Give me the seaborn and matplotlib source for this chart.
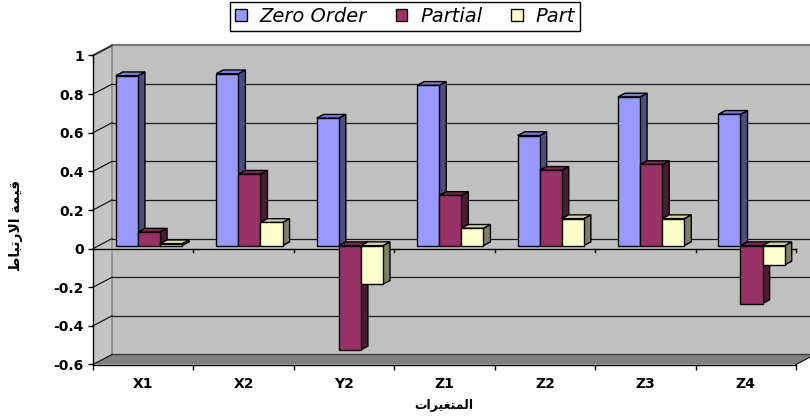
import numpy as np
import pandas as pd
import matplotlib
matplotlib.use("Agg")
import matplotlib.pyplot as plt
import seaborn as sns
from matplotlib.patches import Polygon, Patch
from matplotlib.colors import to_hex

# --- data -------------------------------------------------------------
variables = ["X1", "X2", "Y2", "Z1", "Z2", "Z3", "Z4"]
series = ["Zero Order", "Partial", "Part"]
zero_order = [0.88, 0.89, 0.66, 0.83, 0.57, 0.77, 0.68]
partial = [0.07, 0.37, -0.54, 0.26, 0.39, 0.42, -0.30]
part = [0.01, 0.12, -0.20, 0.09, 0.14, 0.14, -0.10]
yticks = [-0.6, -0.4, -0.2, 0, 0.2, 0.4, 0.6, 0.8, 1]
ytick_labels = ["-0.6", "-0.4", "-0.2", "0", "0.2", "0.4", "0.6", "0.8", "1"]

# Arabic titles, written in shaped (presentation) forms in display order
ylabel_text = "\uFEC1\uFE8E\uFE92\uFE97\uFEAD\uFEFB\uFE8D \uFE94\uFEE4\uFEF4\uFED7"   # قيمة الارتباط
xlabel_text = "\uFE95\uFE8D\uFEAE\uFEF4\uFED0\uFE98\uFEE4\uFEDF\uFE8D"              # المتغيرات

front_colors = ["#9999FF", "#993366", "#FFFFCC"]
top_colors = ["#7C7CD6", "#7A2952", "#D6D6AA"]
side_colors = ["#4D4D80", "#4D1A33", "#808066"]

df = pd.DataFrame({
    "variable": variables * 3,
    "series": np.repeat(series, len(variables)),
    "value": zero_order + partial + part,
})

plt.rcParams["font.family"] = ["DejaVu Sans"]

W, H = 810, 419
fig = plt.figure(figsize=(W / 100, H / 100), dpi=100)
fig.patch.set_facecolor("white")
ax = fig.add_axes([93 / W, (H - 364.5) / H, (796 - 93) / W, (364.5 - 55.5) / H])

sns.barplot(data=df, x="variable", y="value", hue="series", hue_order=series,
            palette=front_colors, saturation=1, width=0.66, errorbar=None,
            edgecolor="black", linewidth=1.0, legend=False, ax=ax)

ax.set_xlim(-0.5, 6.5)
ax.set_ylim(-0.6, 1.0)
ax.set_facecolor("none")

# depth of the box (data units) and of the columns
DX, DY = 0.19, 0.052
FX, FY = 0.3 * DX, 0.3 * DY          # column front face position inside the box
BX, BY = 0.37 * DX, 0.37 * DY        # column thickness

# --- walls and floor --------------------------------------------------
x0w, x1w, y0w, y1w = -0.5, 6.5, -0.6, 1.0
wall_kw = dict(clip_on=False, linewidth=0)
ax.add_patch(Polygon([(x0w + DX, y0w + DY), (x1w + DX, y0w + DY), (x1w + DX, y1w + DY),
                      (x0w + DX, y1w + DY)], facecolor="#C0C0C0", zorder=0, **wall_kw))
ax.add_patch(Polygon([(x0w, y0w), (x0w + DX, y0w + DY), (x0w + DX, y1w + DY), (x0w, y1w)],
                     facecolor="#C4C4C4", zorder=0, **wall_kw))
ax.add_patch(Polygon([(x0w, y0w), (x1w, y0w), (x1w + DX, y0w + DY), (x0w + DX, y0w + DY)],
                     facecolor="#808080", zorder=0.5, **wall_kw))

edge_kw = dict(color="#7A7A7A", linewidth=1.6, clip_on=False, zorder=0.6)
ax.plot([x0w + DX, x1w + DX], [y1w + DY, y1w + DY], **edge_kw)
ax.plot([x0w, x0w + DX], [y1w, y1w + DY], **edge_kw)
ax.plot([x0w + DX, x0w + DX], [y0w + DY, y1w + DY], color="#8C8C8C", linewidth=1.2,
        clip_on=False, zorder=0.6)
ax.plot([x0w + DX, x1w + DX], [y0w + DY, y0w + DY], color="#404040", linewidth=1.0,
        clip_on=False, zorder=0.6)
ax.plot([x1w, x1w + DX], [y0w, y0w + DY], color="#202020", linewidth=0.9,
        clip_on=False, zorder=0.6)

# gridlines on the back wall, with their diagonals across the side wall
for v in yticks[1:-1]:
    ax.plot([x0w + DX, x1w + DX], [v + DY, v + DY], color="#1A1A1A", linewidth=0.9,
            clip_on=False, zorder=0.7)
for v in yticks:
    ax.plot([x0w, x0w + DX], [v, v + DY], color="#1A1A1A", linewidth=0.9,
            clip_on=False, zorder=0.7)

# category axis at zero in the front plane
ax.plot([x0w, x1w], [0, 0], color="black", linewidth=1.0, zorder=0.8, clip_on=False)
for b in np.arange(0.5, 7, 1):
    ax.plot([b, b], [0, -0.016], color="black", linewidth=1.0, zorder=0.8, clip_on=False)

# --- give the columns depth -------------------------------------------
front_hex = [to_hex(c) for c in front_colors]
bars = [p for p in ax.patches if isinstance(p, matplotlib.patches.Rectangle)
        and to_hex(p.get_facecolor()) in front_hex]
for p in bars:
    k = front_hex.index(to_hex(p.get_facecolor()))
    x = p.get_x() + FX
    w = p.get_width()
    h = p.get_height()
    p.set_x(x)
    p.set_y(FY)
    lo, hi = min(FY, FY + h), max(FY, FY + h)
    z = 2 + x
    p.set_zorder(z + 0.2)
    p.set_clip_on(False)
    ax.add_patch(Polygon([(x + w, lo), (x + w + BX, lo + BY), (x + w + BX, hi + BY), (x + w, hi)],
                         facecolor=side_colors[k], edgecolor="black", linewidth=1.0,
                         zorder=z, clip_on=False))
    ax.add_patch(Polygon([(x, hi), (x + w, hi), (x + w + BX, hi + BY), (x + BX, hi + BY)],
                         facecolor=top_colors[k], edgecolor="black", linewidth=1.0,
                         zorder=z + 0.1, clip_on=False))

# --- axes, ticks, labels ----------------------------------------------
for s in ["top", "right"]:
    ax.spines[s].set_visible(False)
for s in ["left", "bottom"]:
    ax.spines[s].set_color("black")
    ax.spines[s].set_linewidth(1.0)
    ax.spines[s].set_zorder(1)

ax.set_yticks(yticks)
ax.set_yticklabels(ytick_labels, fontsize=10, fontweight="bold")
ax.tick_params(axis="y", length=3.5, width=1, pad=3, colors="black")

ax.set_xticks(range(len(variables)))
ax.set_xticklabels(variables, fontsize=10, fontweight="bold")
ax.set_xticks(np.arange(-0.5, 7, 1), minor=True)
ax.tick_params(axis="x", which="major", length=0, pad=9)
ax.tick_params(axis="x", which="minor", length=3.5, width=1)
ax.set_xlabel("")
ax.set_ylabel("")

fig.text(16 / W, 1 - 225 / H, ylabel_text, rotation=90, ha="center", va="center",
         fontsize=10, fontweight="bold")
fig.text(444 / W, 1 - 405 / H, xlabel_text, ha="center", va="center",
         fontsize=9, fontweight="bold")

handles = [Patch(facecolor=c, edgecolor="black", linewidth=1.0) for c in front_colors]
leg = fig.legend(handles, series, loc="upper center", bbox_to_anchor=(405 / W, 1 - 2 / H),
                 ncol=3, prop={"style": "italic", "size": 14}, frameon=True, fancybox=False,
                 edgecolor="black", framealpha=1, borderpad=0.25, handlelength=0.6,
                 handleheight=0.6, handletextpad=0.65, columnspacing=1.5, borderaxespad=0)
leg.get_frame().set_linewidth(1.0)

fig.savefig("out.png", dpi=100)
